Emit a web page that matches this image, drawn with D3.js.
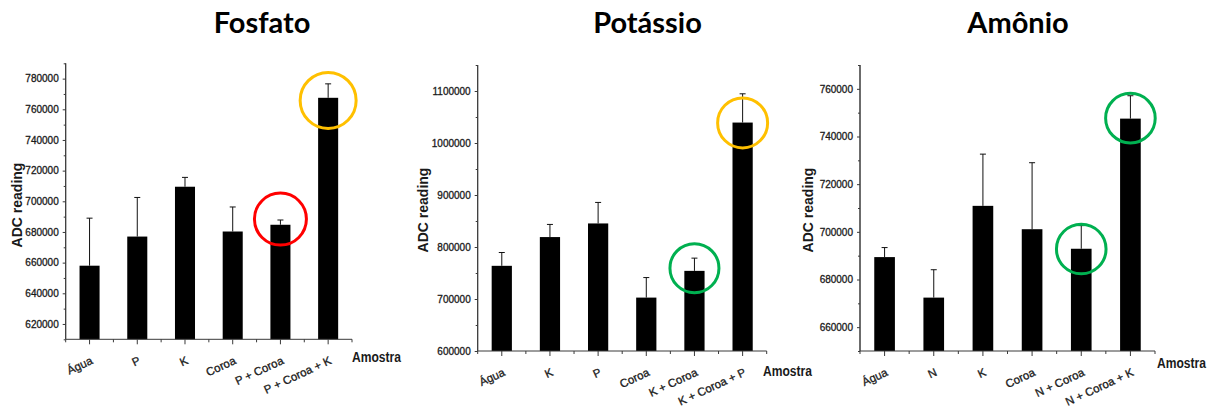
<!DOCTYPE html>
<html>
<head>
<meta charset="utf-8">
<script src="https://cdn.jsdelivr.net/npm/d3@7"></script>
<style>
  html, body { margin: 0; padding: 0; background: #fff; }
  svg { display: block; }
</style>
</head>
<body>
<svg id="chart" width="1214" height="412"></svg>
<script>
// ---- Fosfato ----
const fosfatoCategories = ["Água", "P", "K", "Coroa", "P + Coroa", "P + Coroa + K"];
const fosfatoValues     = [658000, 677000, 709500, 680300, 684700, 767500];
const fosfatoErrTop     = [689000, 702500, 715600, 696300, 687800, 776600];
const fosfatoDomain     = [610000, 790000];
const fosfatoTicks      = [620000, 640000, 660000, 680000, 700000, 720000, 740000, 760000, 780000];
const fosfatoMinorStep  = 10000;
const fosfatoHighlights = [
  { category: "P + Coroa", value: 688400, kind: "red" },
  { category: "P + Coroa + K", value: 765800, kind: "gold" }
];

// ---- Potássio ----
const potassioCategories = ["Água", "K", "P", "Coroa", "K + Coroa", "K + Coroa + P"];
const potassioValues     = [763800, 819100, 845300, 702700, 754100, 1039300];
const potassioErrTop     = [789400, 843400, 885700, 741200, 778600, 1094600];
const potassioDomain     = [600000, 1150000];
const potassioTicks      = [600000, 700000, 800000, 900000, 1000000, 1100000];
const potassioMinorStep  = 50000;
const potassioHighlights = [
  { category: "K + Coroa", value: 759300, kind: "green" },
  { category: "K + Coroa + P", value: 1038700, kind: "gold" }
];

// ---- Amônio ----
const amonioCategories = ["Água", "N", "K", "Coroa", "N + Coroa", "N + Coroa + K"];
const amonioValues     = [689400, 672400, 710900, 701100, 692900, 747500];
const amonioErrTop     = [693400, 684100, 732600, 729000, 702600, 757100];
const amonioDomain     = [650000, 770000];
const amonioTicks      = [660000, 680000, 700000, 720000, 740000, 760000];
const amonioMinorStep  = 10000;
const amonioHighlights = [
  { category: "N + Coroa", value: 692800, kind: "green" },
  { category: "N + Coroa + K", value: 747700, kind: "green" }
];

const titles = ["Fosfato", "Potássio", "Amônio"];
const yTitle = "ADC reading";
const xTitle = "Amostra";

// ---- layout & style ----
const ringColor = { red: "#ff0000", gold: "#ffc000", green: "#00b050" };
const panels = [
  { title: titles[0], cats: fosfatoCategories, vals: fosfatoValues, err: fosfatoErrTop,
    domain: fosfatoDomain, ticks: fosfatoTicks, minor: fosfatoMinorStep, rings: fosfatoHighlights,
    frame: { left: 65.7, right: 352, top: 63.3, bottom: 339.3 }, titleX: 262,
    yTitleX: 17, yTitleY: 205, xTitlePos: [352, 362], ringR: { red: 26, gold: 28 } },
  { title: titles[1], cats: potassioCategories, vals: potassioValues, err: potassioErrTop,
    domain: potassioDomain, ticks: potassioTicks, minor: potassioMinorStep, rings: potassioHighlights,
    frame: { left: 477.7, right: 766.7, top: 65, bottom: 351 }, titleX: 647.5,
    yTitleX: 423, yTitleY: 210, xTitlePos: [763, 376], ringR: { green: 24.5, gold: 25 } },
  { title: titles[2], cats: amonioCategories, vals: amonioValues, err: amonioErrTop,
    domain: amonioDomain, ticks: amonioTicks, minor: amonioMinorStep, rings: amonioHighlights,
    frame: { left: 860, right: 1155, top: 65, bottom: 351 }, titleX: 1018,
    yTitleX: 808, yTitleY: 210, xTitlePos: [1157, 368], ringR: { green: 24.8 } }
];

const svg = d3.select("#chart");
const axisColor = "#3a3a3a";
const textFont = "'Liberation Sans', Arial, sans-serif";
const labelColor = "#1a1a1a";

panels.forEach(p => {
  const f = p.frame;
  const g = svg.append("g");

  const x = d3.scaleBand().domain(p.cats).range([f.left, f.right])
    .paddingInner(0.58).paddingOuter(0.29);
  const y = d3.scaleLinear().domain(p.domain).range([f.bottom, f.top]);

  // title
  svg.append("text")
    .attr("x", p.titleX).attr("y", 33)
    .attr("text-anchor", "middle")
    .attr("font-family", "Lato, 'Open Sans', sans-serif")
    .attr("font-weight", 700)
    .attr("font-size", 29)
    .attr("fill", "#000")
    .text(p.title);

  // bars
  g.selectAll("rect.bar").data(p.cats).join("rect")
    .attr("class", "bar")
    .attr("x", d => x(d))
    .attr("width", x.bandwidth())
    .attr("y", (d, i) => y(p.vals[i]))
    .attr("height", (d, i) => f.bottom - y(p.vals[i]))
    .attr("fill", "#000");

  // error bars (upper only)
  const eg = g.append("g").attr("stroke", "#111").attr("stroke-width", 1);
  p.cats.forEach((c, i) => {
    const cx = x(c) + x.bandwidth() / 2;
    eg.append("line").attr("x1", cx).attr("x2", cx)
      .attr("y1", y(p.vals[i])).attr("y2", y(p.err[i]));
    eg.append("line").attr("x1", cx - 3).attr("x2", cx + 3)
      .attr("y1", y(p.err[i])).attr("y2", y(p.err[i]));
  });

  // y axis: minor ticks then major ticks with labels
  const minorVals = d3.range(p.domain[0], p.domain[1] + 1, p.minor)
    .filter(v => !p.ticks.includes(v));
  const yMinor = g.append("g").attr("transform", `translate(${f.left},0)`)
    .call(d3.axisLeft(y).tickValues(minorVals).tickSize(2).tickFormat(""));
  const yMajor = g.append("g").attr("transform", `translate(${f.left},0)`)
    .call(d3.axisLeft(y).tickValues(p.ticks).tickSize(3).tickPadding(4).tickFormat(d3.format("d")));
  [yMinor, yMajor].forEach(a => {
    a.select(".domain").attr("stroke", axisColor).attr("d", `M0,${f.top}V${f.bottom}`);
    a.selectAll(".tick line").attr("stroke", axisColor);
  });
  yMajor.selectAll(".tick text")
    .attr("font-family", textFont).attr("font-size", 10).attr("fill", labelColor)
    .attr("stroke", labelColor).attr("stroke-width", 0.3);

  // x axis: baseline, major ticks at categories, minor ticks at band edges
  const xg = g.append("g").attr("transform", `translate(0,${f.bottom})`);
  xg.append("line").attr("x1", f.left).attr("x2", f.right)
    .attr("y1", 0).attr("y2", 0).attr("stroke", axisColor);
  const edges = d3.range(p.cats.length + 1).map(i => f.left + i * x.step());
  xg.selectAll("line.minor").data(edges).join("line").attr("class", "minor")
    .attr("x1", d => d).attr("x2", d => d).attr("y1", 0).attr("y2", 3)
    .attr("stroke", axisColor);
  xg.selectAll("line.major").data(p.cats).join("line").attr("class", "major")
    .attr("x1", d => x(d) + x.bandwidth() / 2).attr("x2", d => x(d) + x.bandwidth() / 2)
    .attr("y1", 0).attr("y2", 5).attr("stroke", axisColor);
  xg.selectAll("text.cat").data(p.cats).join("text").attr("class", "cat")
    .attr("transform", d => `translate(${x(d) + x.bandwidth() / 2 + 4},24) rotate(-25)`)
    .attr("text-anchor", "end")
    .attr("font-family", textFont).attr("font-size", 11.5).attr("fill", labelColor)
    .attr("stroke", labelColor).attr("stroke-width", 0.3)
    .text(d => d);

  // axis titles
  svg.append("text")
    .attr("transform", `translate(${p.yTitleX},${p.yTitleY}) rotate(-90)`)
    .attr("text-anchor", "middle").attr("dominant-baseline", "central")
    .attr("font-family", textFont).attr("font-weight", 700).attr("font-size", 14)
    .attr("fill", labelColor)
    .text(yTitle);
  svg.append("text")
    .attr("x", p.xTitlePos[0]).attr("y", p.xTitlePos[1])
    .attr("font-family", textFont).attr("font-weight", 700).attr("font-size", 14)
    .attr("textLength", 49).attr("lengthAdjust", "spacingAndGlyphs")
    .attr("fill", labelColor)
    .text(xTitle);

  // highlight rings
  g.selectAll("circle.ring").data(p.rings).join("circle").attr("class", "ring")
    .attr("cx", d => x(d.category) + x.bandwidth() / 2)
    .attr("cy", d => y(d.value))
    .attr("r", d => p.ringR[d.kind])
    .attr("fill", "none")
    .attr("stroke", d => ringColor[d.kind])
    .attr("stroke-width", 3);
});
</script>
</body>
</html>
